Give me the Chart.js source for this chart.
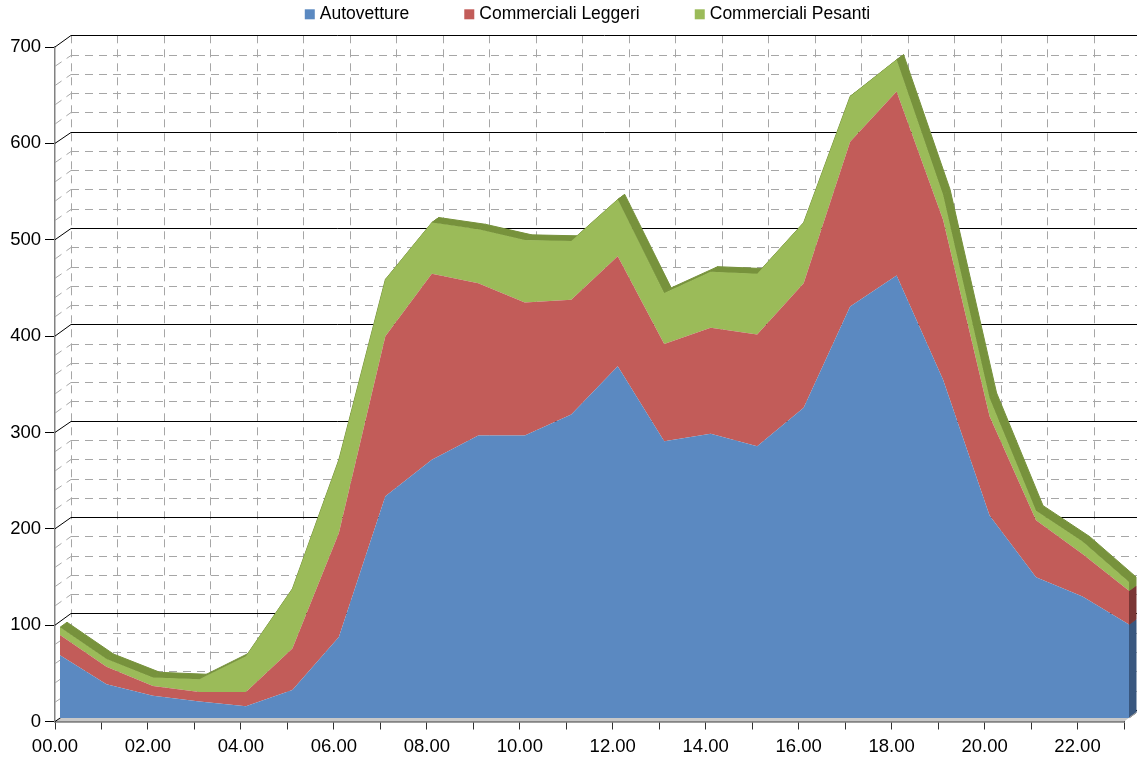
<!DOCTYPE html>
<html>
<head>
<meta charset="utf-8">
<script src="https://cdn.jsdelivr.net/npm/chart.js@4"></script>
<style>
  html, body { margin: 0; padding: 0; background: #fff; }
  #wrap { width: 1137px; height: 762px; }
</style>
</head>
<body>
<div id="wrap"><canvas id="traffico" width="1137" height="762"></canvas></div>
<script>
const hours = ['00.00', '01.00', '02.00', '03.00', '04.00', '05.00', '06.00', '07.00',
               '08.00', '09.00', '10.00', '11.00', '12.00', '13.00', '14.00', '15.00',
               '16.00', '17.00', '18.00', '19.00', '20.00', '21.00', '22.00', '23.00'];
const seriesNames = ['Autovetture', 'Commerciali Leggeri', 'Commerciali Pesanti'];
const autovetture = [65, 35, 23, 17, 12, 29, 84, 230, 268, 293, 293, 315, 365, 287, 295, 282, 322, 427, 459, 351, 210, 146, 126, 97];
const leggeri     = [21, 18, 10, 10, 15, 43, 108, 166, 193, 158, 138, 119, 114, 101, 110, 116, 129, 171, 191, 166, 103, 59, 44, 35];
const pesanti     = [8, 8, 9, 13, 37, 62, 76, 59, 53, 56, 65, 61, 59, 53, 58, 63, 63, 47, 33, 26, 19, 10, 13, 9];
const yMax = 700;

const faceColors = ['#5b89c1', '#c25c59', '#9bbb59'];
const sideColors = ['#39577f', '#7b3735', '#76923c'];
const topColor = '#77923c';
const FONT = "'Liberation Sans', Arial, sans-serif";

// offset of the back wall, and position/depth of the stacked slab
const wall = { dx: 16, dy: -11.7 };
const slab = { x: 5, y: -3.6, dx: 7, dy: -5.1 };

function seg(ctx, x1, y1, x2, y2) {
  ctx.beginPath();
  ctx.moveTo(x1, y1);
  ctx.lineTo(x2, y2);
  ctx.stroke();
}

function quad(ctx, p, q, dx, dy) {
  ctx.beginPath();
  ctx.moveTo(p.x, p.y);
  ctx.lineTo(q.x, q.y);
  ctx.lineTo(q.x + dx, q.y + dy);
  ctx.lineTo(p.x + dx, p.y + dy);
  ctx.closePath();
  ctx.fill();
  ctx.stroke();
}

// back wall grid, side wall, floor and the 3d faces of the areas
const depthPlugin = {
  id: 'depth',
  beforeDatasetsDraw(chart) {
    const { ctx, chartArea: a, scales: { x, y } } = chart;
    const yTop = y.getPixelForValue(yMax) + wall.dy;
    const yBot = y.getPixelForValue(0) + wall.dy;
    ctx.save();

    ctx.fillStyle = '#c8c8c8';
    ctx.beginPath();
    ctx.moveTo(a.left, a.bottom);
    ctx.lineTo(a.right, a.bottom);
    ctx.lineTo(a.right + wall.dx, a.bottom + wall.dy);
    ctx.lineTo(a.left + wall.dx, a.bottom + wall.dy);
    ctx.closePath();
    ctx.fill();

    ctx.lineWidth = 1;
    ctx.strokeStyle = '#a6a6a6';
    ctx.setLineDash([8, 6]);
    for (let v = 20; v < yMax; v += 20) {
      if (v % 100 === 0) continue;
      const fy = y.getPixelForValue(v);
      const by = Math.round(fy + wall.dy) + 0.5;
      seg(ctx, a.left + wall.dx, by, a.right + wall.dx, by);
      seg(ctx, a.left, fy, a.left + wall.dx, by);
    }
    hours.forEach((h, i) => {
      const bx = Math.round(x.getPixelForValue(i) + wall.dx) + 0.5;
      seg(ctx, bx, yTop, bx, yBot);
    });

    ctx.setLineDash([]);
    ctx.strokeStyle = '#000';
    for (let v = 0; v <= yMax; v += 100) {
      const fy = y.getPixelForValue(v);
      const by = Math.round(fy + wall.dy) + 0.5;
      seg(ctx, a.left + wall.dx, by, a.right + wall.dx + 20, by);
      seg(ctx, a.left, fy, a.left + wall.dx, by);
    }
    ctx.restore();

    // slab sits a little behind the front plane
    ctx.save();
    ctx.translate(slab.x, slab.y);
    const metas = chart.getSortedVisibleDatasetMetas();
    const top = metas[metas.length - 1].data;
    ctx.fillStyle = topColor;
    ctx.strokeStyle = topColor;
    ctx.lineWidth = 1;
    for (let i = 0; i < top.length - 1; i++) {
      quad(ctx, top[i], top[i + 1], slab.dx, slab.dy);
    }
    const base = y.getPixelForValue(0);
    metas.forEach((m, k) => {
      const last = m.data.length - 1;
      const pt = m.data[last];
      const yb = k === 0 ? base : metas[k - 1].data[last].y;
      ctx.fillStyle = sideColors[k];
      ctx.strokeStyle = sideColors[k];
      quad(ctx, { x: pt.x, y: yb }, { x: pt.x, y: pt.y }, slab.dx, slab.dy);
    });
    // bottom edge of the slab
    ctx.fillStyle = '#9a9a9a';
    ctx.strokeStyle = '#9a9a9a';
    quad(ctx, { x: top[top.length - 1].x, y: base }, { x: top[top.length - 1].x + slab.dx, y: base + slab.dy }, 0, 0);
  },
  afterDatasetsDraw(chart) {
    chart.ctx.restore();
  }
};

// legend row above the plot
const legendPlugin = {
  id: 'legendRow',
  afterDraw(chart) {
    const { ctx, chartArea: a } = chart;
    const box = 10, gapText = 5, gapItem = 55;
    ctx.save();
    ctx.font = '17.5px ' + FONT;
    ctx.textBaseline = 'alphabetic';
    ctx.textAlign = 'left';
    const items = chart.data.datasets.map(ds => ({
      text: ds.label,
      color: ds.backgroundColor,
      w: ctx.measureText(ds.label).width
    }));
    const total = items.reduce((s, it) => s + box + gapText + it.w, 0) + gapItem * (items.length - 1);
    let lx = (a.left + a.right) / 2 - 2 - total / 2;
    items.forEach(it => {
      ctx.fillStyle = it.color;
      ctx.fillRect(lx, 9.3, box, box);
      ctx.fillStyle = '#000';
      ctx.fillText(it.text, lx + box + gapText, 19.3);
      lx += box + gapText + it.w + gapItem;
    });
    ctx.restore();
  }
};

const series = [autovetture, leggeri, pesanti];

new Chart(document.getElementById('traffico'), {
  type: 'line',
  data: {
    labels: hours,
    datasets: series.map((values, k) => ({
      label: seriesNames[k],
      data: values,
      backgroundColor: faceColors[k],
      borderColor: 'rgba(0,0,0,0)',
      borderWidth: 0,
      pointRadius: 0,
      tension: 0,
      fill: k === 0 ? 'origin' : '-1',
      clip: false
    }))
  },
  options: {
    responsive: false,
    animation: false,
    devicePixelRatio: 1,
    layout: { padding: { left: 0, right: 13, top: 47, bottom: 0 } },
    plugins: {
      legend: { display: false },
      tooltip: { enabled: false }
    },
    scales: {
      x: {
        offset: false,
        grid: { drawOnChartArea: false, drawTicks: true, tickLength: 8, color: '#303030' },
        border: { color: '#404040', width: 1.5 },
        ticks: {
          autoSkip: false,
          maxRotation: 0,
          padding: 6.5,
          color: '#000',
          font: { family: FONT, size: 18.5 },
          callback: (v, i) => (i % 2 === 0 ? hours[i] : '')
        },
        afterFit(scale) { scale.height = 40.5; }
      },
      y: {
        stacked: true,
        min: 0,
        max: yMax,
        grid: { drawOnChartArea: false, drawTicks: true, tickLength: 10, color: '#000' },
        border: { color: '#828282', width: 1.5 },
        ticks: {
          stepSize: 100,
          padding: 4,
          color: '#000',
          font: { family: FONT, size: 18.5 }
        },
        afterFit(scale) { scale.width = 55; }
      }
    }
  },
  plugins: [depthPlugin, legendPlugin]
});
</script>
</body>
</html>
